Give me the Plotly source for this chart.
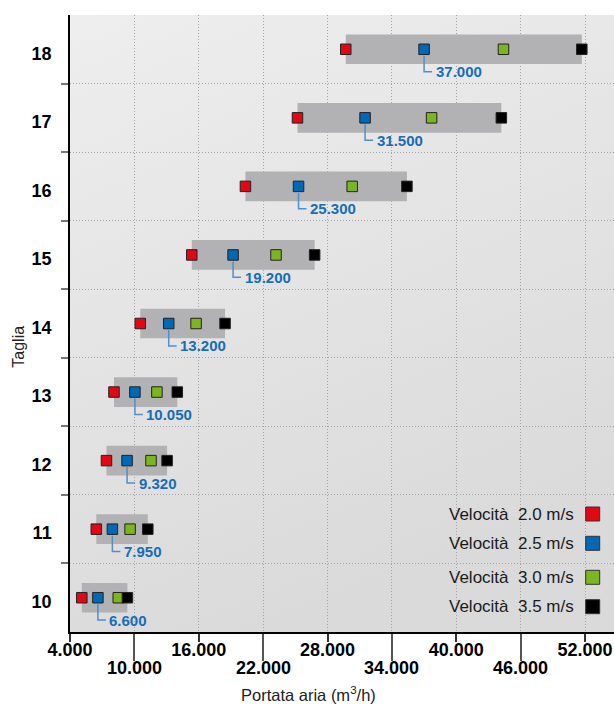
import base64
import plotly.graph_objects as go

# ---------------- data ----------------
sizes = [10, 11, 12, 13, 14, 15, 16, 17, 18]
v20 = [5100, 6450, 7400, 8100, 10550, 15350, 20350, 25200, 29700]
v25 = [6600, 7950, 9320, 10050, 13200, 19200, 25300, 31500, 37000]
v30 = [8500, 9600, 11550, 12100, 15750, 23200, 30300, 37700, 44400]
v35 = [9350, 11250, 13050, 14000, 18450, 26800, 35400, 44200, 51700]
series_names = ["Velocità  2.0 m/s", "Velocità  2.5 m/s", "Velocità  3.0 m/s", "Velocità  3.5 m/s"]
series_colors = ["#e30613", "#0068b4", "#7cb61e", "#000000"]
x_ticks_row1 = [4000, 16000, 28000, 40000, 52000]
x_ticks_row2 = [10000, 22000, 34000, 46000]
x_title = "Portata aria (m<sup>3</sup>/h)"
y_title = "Taglia"


def fmt(v):
    return f"{v:,}".replace(",", ".")


W, H = 614, 704
ML, MR, MT, MB = 70, 0, 15, 72
plot_w = W - ML - MR
plot_h = H - MT - MB
XMIN, XMAX = 4000, 54700
px_per_unit = plot_w / (XMAX - XMIN)
row_px = plot_h / 9.0
GRID = dict(gridcolor="#a4a4a4", griddash="1px,2px", gridwidth=1)

fig = go.Figure()

# gray range bars (from 2.0 m/s to 3.5 m/s)
fig.add_trace(go.Bar(
    y=sizes, base=v20, x=[b - a for a, b in zip(v20, v35)],
    orientation="h", width=0.433, marker=dict(color="#b2b2b4", line=dict(width=0)),
    hoverinfo="skip", showlegend=False,
))

for vals, name, col in zip([v20, v25, v30, v35], series_names, series_colors):
    fig.add_trace(go.Scatter(
        x=vals, y=sizes, mode="markers", name=name,
        marker=dict(symbol="square", size=10.5, color=col, line=dict(width=1, color="#222222")),
        showlegend=False,
    ))

shapes = []
annotations = []

# blue value labels with L connectors
dy = 22.4 / row_px
dx = 8 / px_per_unit
for s, b in zip(sizes, v25):
    shapes.append(dict(
        type="path", xref="x", yref="y",
        path=f"M {b},{s - 6.5 / row_px} V {s - dy} H {b + dx}",
        line=dict(color="#4f8fcc", width=1.5), layer="above",
    ))
    annotations.append(dict(
        x=b, y=s - dy, xref="x", yref="y", text=fmt(b), showarrow=False,
        xanchor="left", yanchor="middle", xshift=9.5,
        font=dict(family="Liberation Sans", size=15, color="#176db8", weight="bold"),
    ))

# second row of x tick labels
for t in x_ticks_row2:
    annotations.append(dict(
        x=t, y=0, xref="x", yref="paper", text=fmt(t), showarrow=False,
        xanchor="center", yanchor="middle", yshift=-36,
        font=dict(family="Liberation Sans", size=18, color="black", weight="bold"),
    ))

# axis titles
annotations.append(dict(
    x=(308 - ML) / plot_w, y=0, xref="paper", yref="paper", text=x_title,
    showarrow=False, xanchor="center", yanchor="middle", yshift=-61.5,
    font=dict(family="Liberation Sans", size=16.5, color="#222222"),
))
annotations.append(dict(
    x=0, y=(MT + plot_h - 346.7) / plot_h, xref="paper", yref="paper", text=y_title,
    showarrow=False, xanchor="center", yanchor="middle", xshift=-51, textangle=-90,
    font=dict(family="Liberation Sans", size=16, color="#222222"),
))

# legend (text left, square right)
leg_y = [514, 543.3, 577.3, 606.7]
for name, col, yy in zip(series_names, series_colors, leg_y):
    py = (MT + plot_h - yy) / plot_h
    annotations.append(dict(
        x=(576 - ML) / plot_w, y=py, xref="paper", yref="paper", text=name,
        showarrow=False, xanchor="right", yanchor="middle",
        font=dict(family="Liberation Sans", size=17, color="#1a1a1a"),
    ))
    cx = (592.7 - ML) / plot_w
    hx, hy = 7 / plot_w, 7 / plot_h
    shapes.append(dict(
        type="rect", xref="paper", yref="paper",
        x0=cx - hx, x1=cx + hx, y0=py - hy, y1=py + hy,
        fillcolor=col, line=dict(color="#333333", width=1), layer="above",
    ))

# background gradient
svg = ('<svg xmlns="http://www.w3.org/2000/svg" width="100" height="100" preserveAspectRatio="none">'
       '<defs><linearGradient id="g" x1="0" y1="0" x2="0.35" y2="1">'
       '<stop offset="0" stop-color="#eeeeee"/><stop offset="1" stop-color="#dadada"/>'
       '</linearGradient></defs><rect width="100" height="100" fill="url(#g)"/></svg>')
src = "data:image/svg+xml;base64," + base64.b64encode(svg.encode()).decode()

fig.update_layout(
    width=W, height=H,
    margin=dict(l=ML, r=MR, t=MT, b=MB, pad=0),
    paper_bgcolor="white", plot_bgcolor="#e4e4e4",
    showlegend=False, barmode="overlay",
    shapes=shapes, annotations=annotations,
    images=[dict(source=src, xref="paper", yref="paper", x=0, y=1, sizex=1, sizey=1,
                 sizing="stretch", xanchor="left", yanchor="top", layer="below")],
    xaxis=dict(
        range=[XMIN, XMAX], showline=True, linecolor="black", linewidth=1.5,
        tickmode="array", tickvals=x_ticks_row1, ticktext=[fmt(t) for t in x_ticks_row1],
        ticks="outside", ticklen=8, tickcolor="#333333", tickwidth=1.5,
        ticklabelstandoff=-7, automargin=False,
        tickfont=dict(family="Liberation Sans", size=18, color="black", weight="bold"),
        showgrid=True, zeroline=False, **GRID,
        minor=dict(tickmode="array", tickvals=x_ticks_row2, ticks="outside", ticklen=27,
                   tickcolor="#555555", tickwidth=1.5, showgrid=True, **GRID),
    ),
    yaxis=dict(
        range=[9.5, 18.5], showline=True, linecolor="black", linewidth=1.5,
        tickmode="array", tickvals=sizes, ticktext=[str(s) for s in sizes],
        ticks="", showgrid=False, zeroline=False, ticklabelstandoff=13, ticklabelshift=4,
        automargin=False,
        tickfont=dict(family="Liberation Sans", size=18, color="black", weight="bold"),
        minor=dict(tickmode="array", tickvals=[s + 0.5 for s in sizes[:-1]], ticks="outside",
                   ticklen=7, tickcolor="#777777", tickwidth=1.5, showgrid=True, **GRID),
    ),
)

fig.write_html("out.html", config={"displayModeBar": False},
               post_script="document.body.style.margin='0';document.body.style.overflow='hidden';")
